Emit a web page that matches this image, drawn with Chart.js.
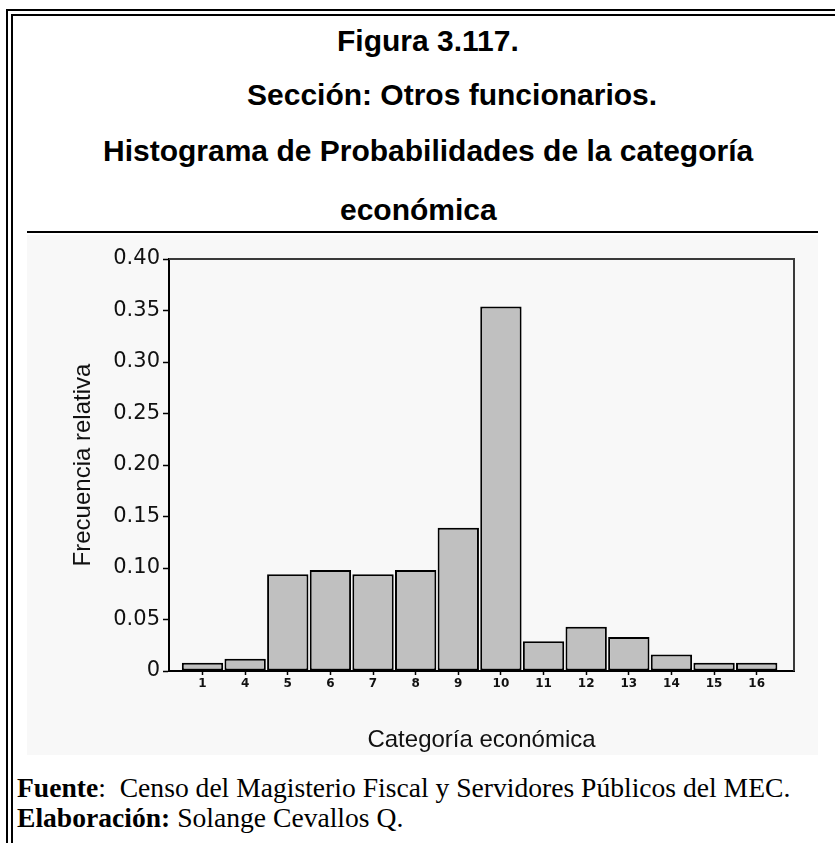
<!DOCTYPE html>
<html>
<head>
<meta charset="utf-8">
<script src="https://cdn.jsdelivr.net/npm/chart.js@4"></script>
<style>
  html, body { margin: 0; padding: 0; background: #fff; overflow: hidden; }
  body { width: 835px; height: 843px; position: relative; }
  .borde { position: absolute; right: -10px; bottom: -10px; border-left: 2px solid #000; border-top: 2px solid #000; }
  .titulo { position: absolute; font-family: "Liberation Sans", Arial, sans-serif; font-weight: bold; font-size: 30px; line-height: 30px; white-space: nowrap; color: #000; }
  .pie { position: absolute; left: 17px; font-family: "Liberation Serif", "Times New Roman", serif; font-size: 27.6px; line-height: 30px; white-space: nowrap; color: #000; }
  #sep { position: absolute; left: 27px; top: 231px; width: 791px; height: 2px; background: #000; }
  #caja { position: absolute; left: 27px; top: 235px; width: 791px; height: 520px; background: #f8f8f8; }
</style>
</head>
<body>
<div class="borde" style="left:6px; top:9px;"></div>
<div class="borde" style="left:11px; top:14px;"></div>

<div class="titulo" style="left:337px; top:26px;">Figura 3.117.</div>
<div class="titulo" style="left:247px; top:80px;">Sección: Otros funcionarios.</div>
<div class="titulo" style="left:103px; top:136px;">Histograma de Probabilidades de la categoría</div>
<div class="titulo" style="left:340px; top:195px;">económica</div>

<div id="sep"></div>
<div id="caja"><canvas id="myCanvas" width="791" height="520"></canvas></div>

<div class="pie" style="top:773px;"><b>Fuente</b>:&nbsp; Censo del Magisterio Fiscal y Servidores Públicos del MEC.</div>
<div class="pie" style="top:803px;"><b>Elaboración:</b> Solange Cevallos Q.</div>

<script>
// datos
const categorias = ['1', '4', '5', '6', '7', '8', '9', '10', '11', '12', '13', '14', '15', '16'];
const frecuencias = [0.008, 0.012, 0.094, 0.098, 0.094, 0.098, 0.139, 0.354, 0.029, 0.043, 0.033, 0.016, 0.008, 0.008];
const marcasY = [0, 0.05, 0.10, 0.15, 0.20, 0.25, 0.30, 0.35, 0.40];

// marco superior y derecho del area del grafico
const marco = {
    id: 'marco',
    afterDraw(chart) {
        const a = chart.chartArea;
        const c = chart.ctx;
        c.save();
        c.strokeStyle = '#3a3a3a';
        c.lineWidth = 2;
        c.beginPath();
        c.moveTo(a.left, a.top);
        c.lineTo(a.right, a.top);
        c.lineTo(a.right, a.bottom);
        c.stroke();
        c.restore();
    }
};

Chart.defaults.font.family = '"DejaVu Sans", sans-serif';
Chart.defaults.color = '#111';

var canvas = document.getElementById('myCanvas');
const ctx = canvas.getContext('2d');
const myChart = new Chart(ctx, {
    type: 'bar',
    data: {
        datasets: [{
            label: 'Frecuencia relativa',
            data: frecuencias.map((v, i) => ({ x: i + 1, y: v })),
            backgroundColor: '#c0c0c0',
            borderColor: '#000',
            borderWidth: 2,
            borderSkipped: false,
            categoryPercentage: 1,
            barPercentage: 0.97
        }]
    },
    options: {
        responsive: false,
        animation: false,
        layout: { padding: { top: 24, right: 24, left: 0, bottom: 0 } },
        plugins: {
            legend: { display: false },
            tooltip: { enabled: false }
        },
        scales: {
            x: {
                type: 'linear',
                min: 0.214,
                max: 14.875,
                offset: false,
                afterFit: s => { s.height = 84; },
                afterBuildTicks: s => { s.ticks = categorias.map((c, i) => ({ value: i + 1 })); },
                grid: { offset: false, drawOnChartArea: false, tickLength: 4, tickColor: '#000', tickWidth: 1.5 },
                border: { color: '#000', width: 2 },
                ticks: {
                    autoSkip: false,
                    maxRotation: 0,
                    padding: 2,
                    font: { size: 12, weight: 'bold' },
                    callback: v => categorias[v - 1]
                },
                title: {
                    display: true,
                    text: 'Categoría económica',
                    font: { family: '"Liberation Sans", Arial, sans-serif', size: 24 },
                    color: '#111',
                    padding: { top: 4, bottom: 0 }
                }
            },
            y: {
                min: 0,
                max: 0.4,
                afterFit: s => { s.width = 142; },
                afterBuildTicks: s => { s.ticks = marcasY.map(v => ({ value: v })); },
                grid: { drawOnChartArea: false, tickLength: 6, tickColor: '#000', tickWidth: 1.5 },
                border: { color: '#000', width: 2 },
                ticks: {
                    padding: 3,
                    font: { size: 21 },
                    callback: v => v === 0 ? '0' : v.toFixed(2)
                },
                title: {
                    display: true,
                    text: 'Frecuencia relativa',
                    font: { family: '"Liberation Sans", Arial, sans-serif', size: 24 },
                    color: '#111',
                    padding: { top: 42, bottom: 0 }
                }
            }
        }
    },
    plugins: [marco]
});
</script>
</body>
</html>
